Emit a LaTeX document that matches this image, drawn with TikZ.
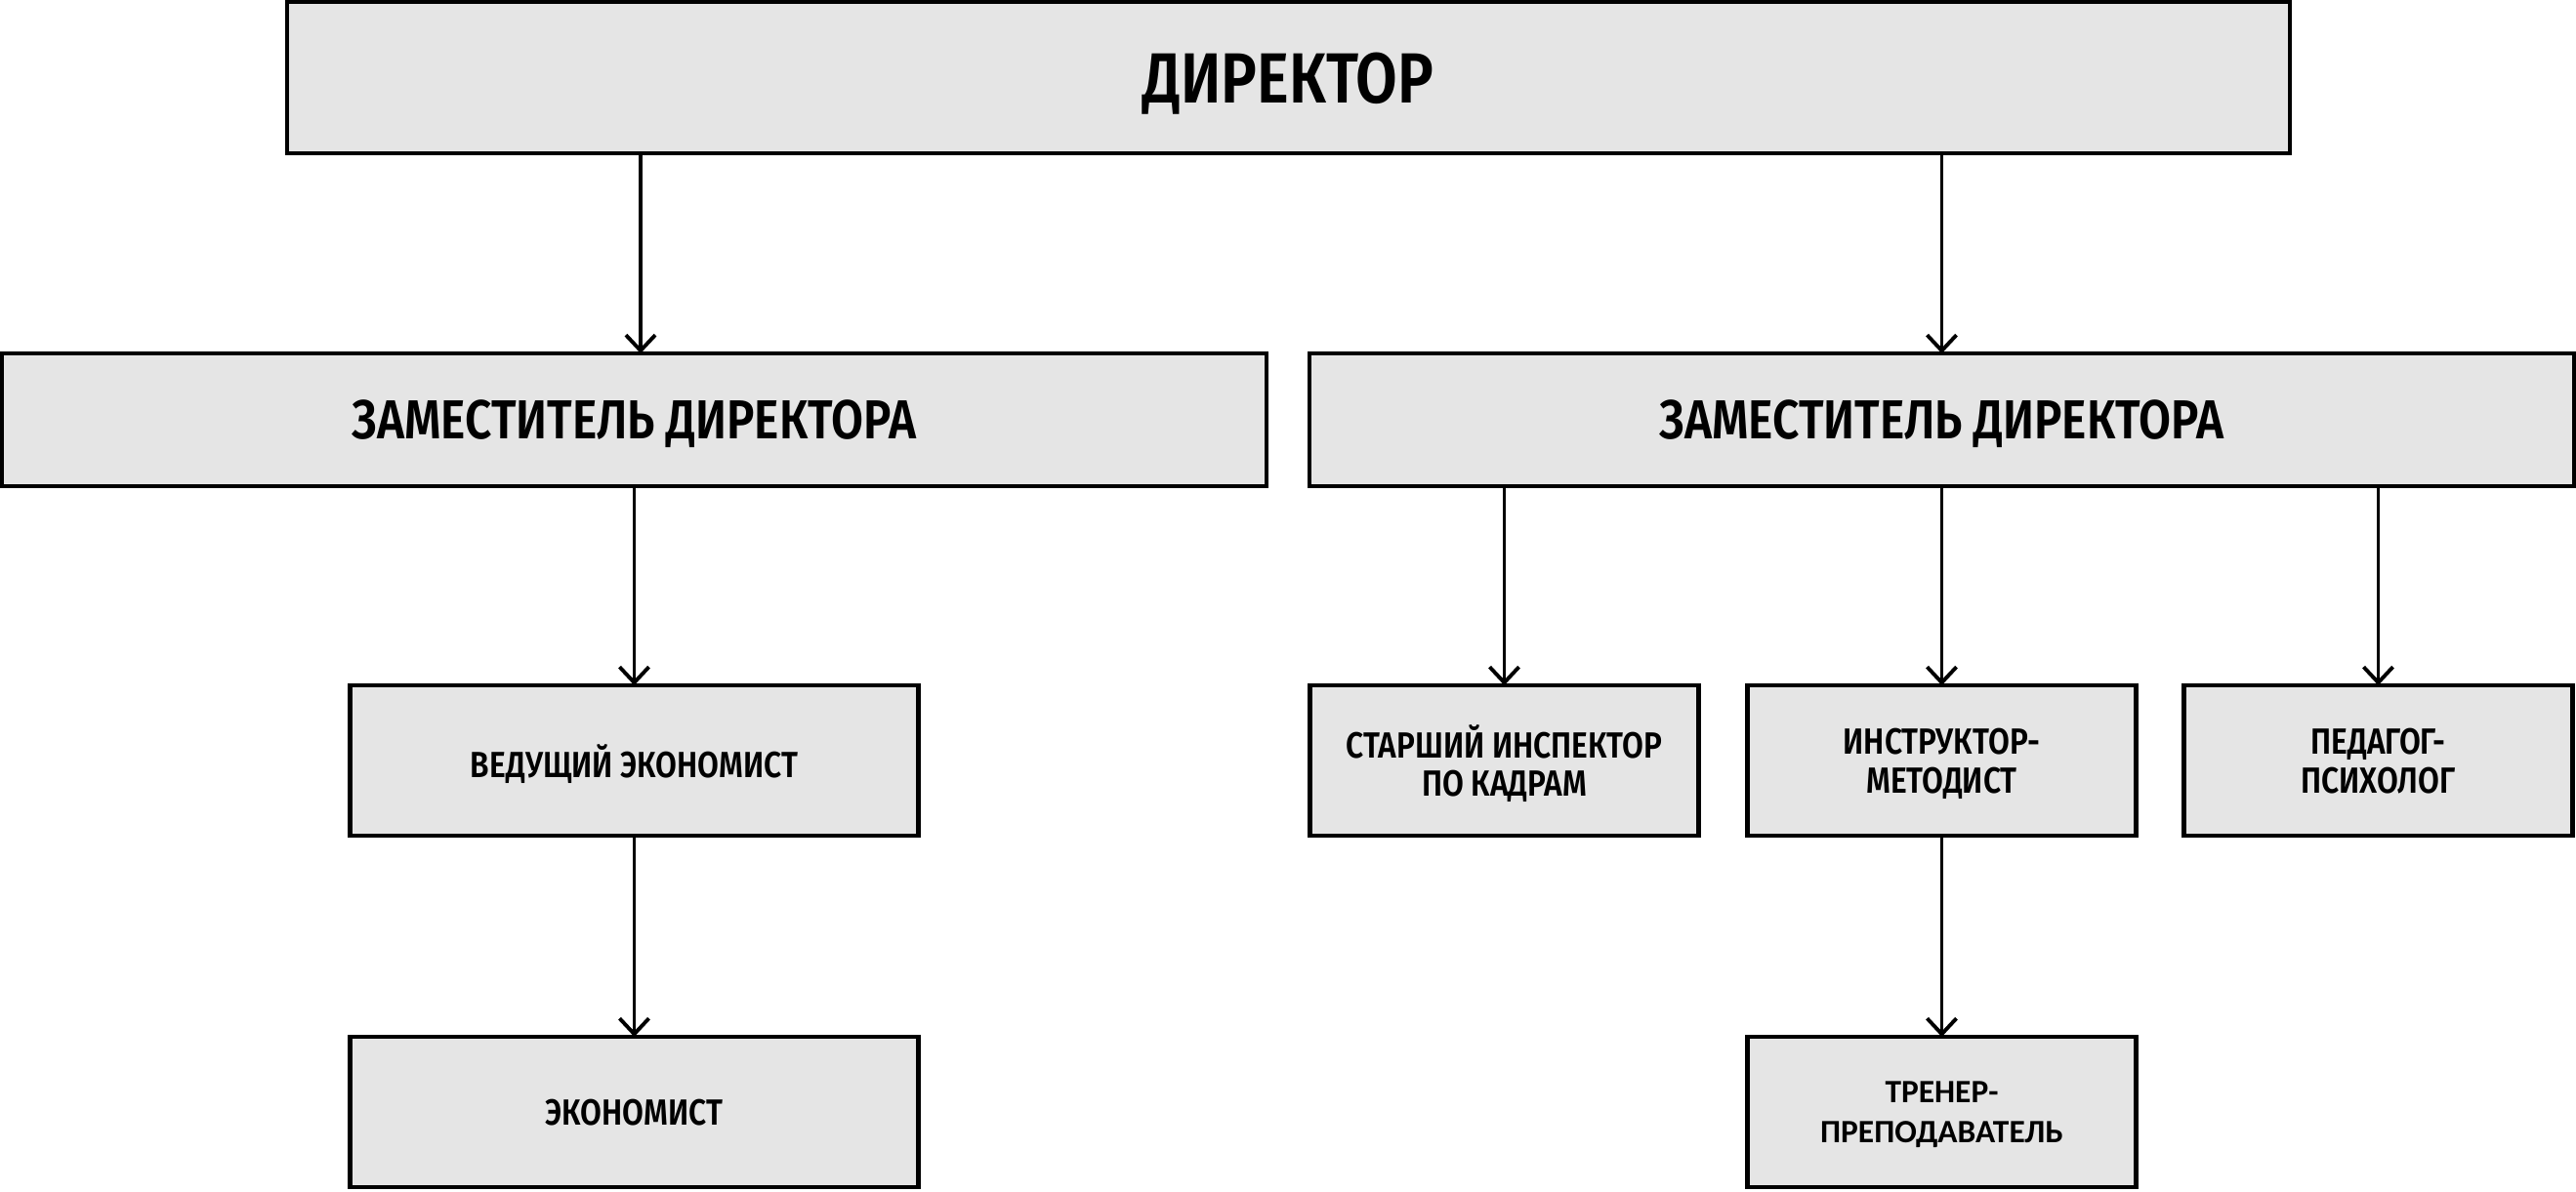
\documentclass[tikz,border=0pt]{standalone}
\usepackage{fontspec}
\setmainfont{Fira Sans}[FakeStretch=0.85,BoldFont={Fira Sans SemiBold}]
\newfontfamily\trenfont{Carlito}
\usetikzlibrary{arrows.meta,positioning}

\begin{document}
\begin{tikzpicture}[node distance=2.05cm,
    box/.style={draw,line width=1.2pt,fill=black!10,align=center,outer sep=0pt,text depth=0pt,font=\bfseries},
    boss/.style={box,minimum width=20.51cm,minimum height=1.55cm,font=\bfseries\fontsize{20.7}{24}\selectfont},
    deputy/.style={box,minimum width=12.95cm,minimum height=1.36cm,font=\bfseries\fontsize{16}{19}\selectfont},
    staff/.style={box,minimum width=5.82cm,minimum height=1.54cm,font=\bfseries\fontsize{10.6}{11.3}\selectfont},
    small/.style={staff,minimum width=3.98cm},
    arrow/.style={-{Straight Barb[length=1.6mm,width=3mm]},line width=1.1pt}]
  \useasboundingbox (0,0) rectangle (26.38,-12.2);
  \node[boss] (dir) at (13.195,-0.795) {ДИРЕКТОР};
  \node[deputy] (depL) at (6.495,-4.30) {ЗАМЕСТИТЕЛЬ ДИРЕКТОРА};
  \node[deputy,right=0.44cm of depL] (depR) {ЗАМЕСТИТЕЛЬ ДИРЕКТОРА};
  \node[staff,below=2.04cm of depL] (ved) {ВЕДУЩИЙ ЭКОНОМИСТ};
  \node[staff,below=2.06cm of ved] (eco) {ЭКОНОМИСТ};
  \node[small,below=2.04cm of depR] (instr) {ИНСТРУКТОР-\\МЕТОДИСТ};
  \node[small,left=0.5cm of instr] (insp) {СТАРШИЙ ИНСПЕКТОР\\ПО КАДРАМ};
  \node[small,right=0.49cm of instr] (ped) {ПЕДАГОГ-\\ПСИХОЛОГ};
  \node[small,below=2.06cm of instr,font=\trenfont\bfseries\fontsize{9.5}{11.5}\selectfont] (tren) {ТРЕНЕР-\\ПРЕПОДАВАТЕЛЬ};
  \draw[arrow] (dir.south -| 6.56,0) -- (depL.north -| 6.56,0);
  \draw[arrow] (dir.south -| depR.north) -- (depR.north);
  \draw[arrow] (depL.south -| ved.north) -- (ved.north);
  \draw[arrow] (ved) -- (eco);
  \draw[arrow] (depR.south -| insp.north) -- (insp.north);
  \draw[arrow] (depR.south -| instr.north) -- (instr.north);
  \draw[arrow] (depR.south -| ped.north) -- (ped.north);
  \draw[arrow] (instr) -- (tren);
\end{tikzpicture}
\end{document}
